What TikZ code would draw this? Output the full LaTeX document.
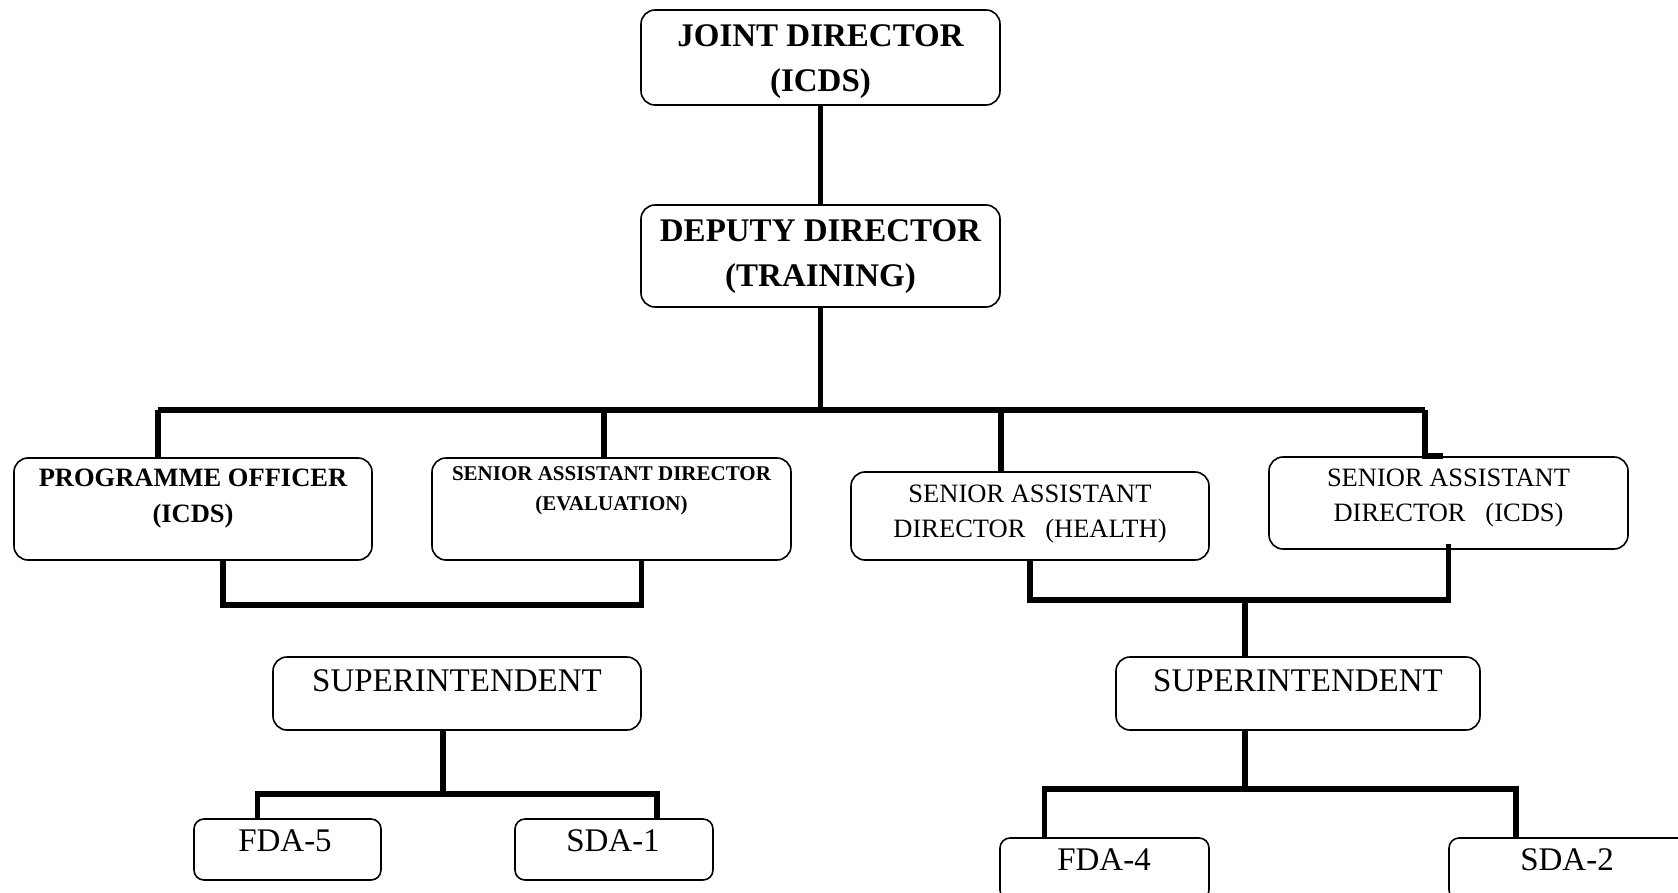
\documentclass[tikz,border=0pt]{standalone}
\usepackage{fontspec}
\setmainfont{Liberation Serif}
\begin{document}
\begin{tikzpicture}[x=1pt,y=-1pt,
  box/.style={draw, line width=1.6pt, rounded corners=14pt, inner sep=0pt},
  sbox/.style={draw, line width=1.6pt, rounded corners=10pt, inner sep=0pt},
  conn/.style={line width=5.5pt},
  txt/.style={align=center, inner sep=0pt},
  bigb/.style={txt, font=\fontsize{33}{45}\selectfont\bfseries},
  midb/.style={txt, font=\fontsize{26.5}{36}\selectfont\bfseries},
  smlb/.style={txt, font=\fontsize{21}{30}\selectfont\bfseries},
  midr/.style={txt, font=\fontsize{26.5}{35}\selectfont},
  bigr/.style={txt, font=\fontsize{33}{40}\selectfont}]
\useasboundingbox (0,0) rectangle (1678,893);
\clip (0,0) rectangle (1678,893);
% boxes
\node[box, minimum width=359pt, minimum height=95pt] (jd) at (820.5,57.5) {};
\node[box, minimum width=359pt, minimum height=102pt] (dd) at (820.5,256) {};
\node[box, minimum width=358pt, minimum height=102pt] (po) at (193,509) {};
\node[box, minimum width=359pt, minimum height=102pt] (sade) at (611.5,509) {};
\node[box, minimum width=358pt, minimum height=88pt] (sadh) at (1030,516) {};
\node[box, minimum width=359pt, minimum height=92pt] (sadi) at (1448.5,503) {};
\node[box, minimum width=368pt, minimum height=73pt] (supl) at (457,693.5) {};
\node[box, minimum width=364pt, minimum height=73pt] (supr) at (1298,693.5) {};
\node[sbox, minimum width=187pt, minimum height=61pt] (fda5) at (287.5,849.5) {};
\node[sbox, minimum width=198pt, minimum height=61pt] (sda1) at (614,849.5) {};
\node[sbox, minimum width=209pt, minimum height=62pt] (fda4) at (1104.5,869) {};
\node[sbox, minimum width=251pt, minimum height=62pt] (sda2) at (1574.5,869) {};
% texts
\node[bigb] (jdt) at (820.5,61.5) {JOINT DIRECTOR\\(ICDS)};
\node[bigb] (ddt) at (820.5,256.5) {DEPUTY DIRECTOR\\(TRAINING)};
\node[midb] (pot) at (193,498.4) {PROGRAMME OFFICER\\(ICDS)};
\node[smlb] (sadet) at (611.5,491) {SENIOR ASSISTANT DIRECTOR\\(EVALUATION)};
\node[midr] (sadht) at (1030,514) {SENIOR ASSISTANT\\DIRECTOR\ \ \ (HEALTH)};
\node[midr] (sadit) at (1448.5,498) {SENIOR ASSISTANT\\DIRECTOR\ \ \ (ICDS)};
\node[bigr] (suplt) at (457,681) {SUPERINTENDENT};
\node[bigr] (suprt) at (1298,681) {SUPERINTENDENT};
\node[bigr] (fda5t) at (285,841) {FDA-5};
\node[bigr] (sda1t) at (613,841) {SDA-1};
\node[bigr] (fda4t) at (1104,860) {FDA-4};
\node[bigr] (sda2t) at (1567,860) {SDA-2};
% coordinates
\coordinate (bar) at (820.5,410);
\coordinate (barL) at (158,410);
\coordinate (barR) at (1425,410);
\coordinate (brL) at (223,605);
\coordinate (brR) at (1030,600);
\coordinate (brM) at (1245,600);
\coordinate (lbar) at (443,794);
\coordinate (rbar) at (1245,789);
% connectors
\draw[conn] (jd.south) -- (dd.north);
\draw[conn] (dd.south) -- (bar);
\draw[conn] (barL) -- (barR);
\draw[conn] (barL) -- (barL |- po.north);
\draw[conn] ([xshift=-7.5pt]sade.north) -- ([xshift=-7.5pt]sade.north |- bar);
\draw[conn] ([xshift=-29pt]sadh.north) -- ([xshift=-29pt]sadh.north |- bar);
\draw[conn] (barR) -- (barR |- sadi.north) -- ++(18,0);
\draw[conn] ([xshift=30pt]po.south) -- ([xshift=30pt]po.south |- brL) -- ([xshift=30pt]sade.south |- brL) -- ([xshift=30pt]sade.south);
\draw[conn] (sadh.south) -- (brR) -- (sadi.south |- brR) -- ([yshift=6pt]sadi.south);
\draw[conn] (brM) -- (brM |- supr.north);
\draw[conn] (lbar |- supl.south) -- (lbar);
\draw[conn] ([xshift=-30pt]fda5.north) -- ([xshift=-30pt]fda5.north |- lbar) -- ([xshift=43pt]sda1.north |- lbar) -- ([xshift=43pt]sda1.north);
\draw[conn] (rbar |- supr.south) -- (rbar);
\draw[conn] ([xshift=-60pt]fda4.north) -- ([xshift=-60pt]fda4.north |- rbar) -- ([xshift=68pt]sda2.north west |- rbar) -- ([xshift=68pt]sda2.north west);
\end{tikzpicture}
\end{document}
